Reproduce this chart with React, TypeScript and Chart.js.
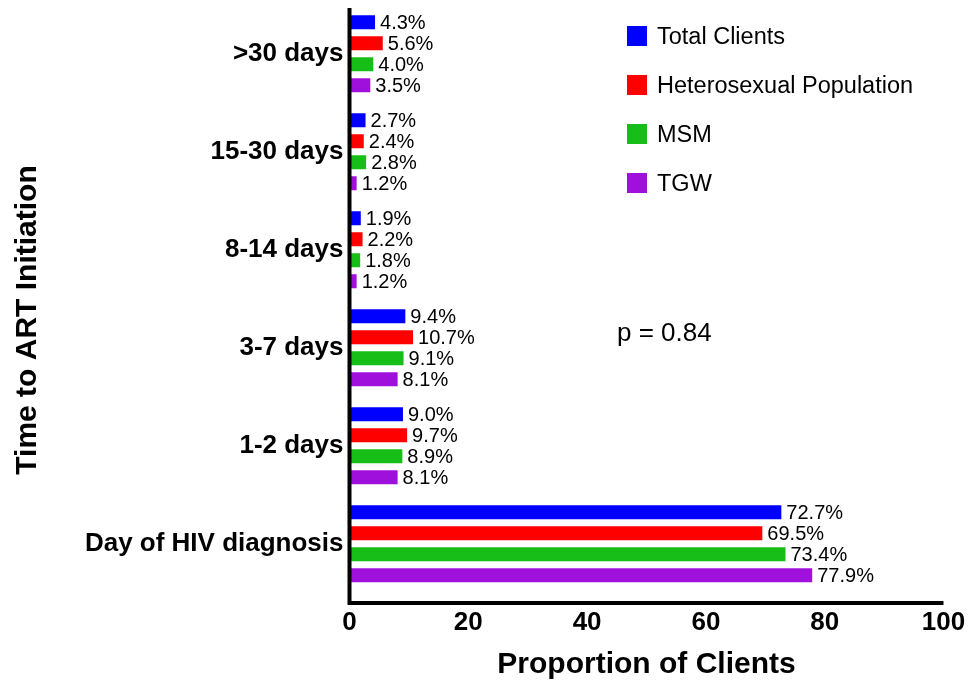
import React, { useEffect, useRef } from "react";
import { Chart, registerables } from "chart.js";

Chart.register(...registerables);

const categories = [">30 days", "15-30 days", "8-14 days", "3-7 days", "1-2 days", "Day of HIV diagnosis"];
const seriesNames = ["Total Clients", "Heterosexual Population", "MSM", "TGW"];
const totalClients = [4.3, 2.7, 1.9, 9.4, 9.0, 72.7];
const heterosexual = [5.6, 2.4, 2.2, 10.7, 9.7, 69.5];
const msm = [4.0, 2.8, 1.8, 9.1, 8.9, 73.4];
const tgw = [3.5, 1.2, 1.2, 8.1, 8.1, 77.9];
const xTicks = [0, 20, 40, 60, 80, 100];
const pValueText = "p = 0.84";
const xTitle = "Proportion of Clients";
const yTitle = "Time to ART Initiation";
const colors = ["#0000FF", "#FF0000", "#18BE18", "#A010DC"];

const FONT = "Arial, 'Liberation Sans', Helvetica, sans-serif";

const overlayPlugin = {
  id: "overlay",
  afterDatasetsDraw(chart: any) {
    const { ctx, chartArea } = chart;
    const { left, right, top, bottom } = chartArea;
    ctx.save();
    // value labels
    ctx.fillStyle = "#000";
    ctx.font = `20px ${FONT}`;
    ctx.textAlign = "left";
    ctx.textBaseline = "middle";
    chart.data.datasets.forEach((ds: any, di: number) => {
      const meta = chart.getDatasetMeta(di);
      meta.data.forEach((el: any, i: number) => {
        const v = ds.data[i].x;
        ctx.fillText(v.toFixed(1) + "%", el.x + 5, el.y + 1);
      });
    });
    // axis lines
    ctx.strokeStyle = "#000";
    ctx.lineWidth = 4;
    ctx.lineCap = "butt";
    ctx.beginPath();
    ctx.moveTo(left, top);
    ctx.lineTo(left, bottom + 2);
    ctx.moveTo(left - 2, bottom);
    ctx.lineTo(right, bottom);
    ctx.stroke();
    // legend
    ctx.font = `23.5px ${FONT}`;
    ctx.textBaseline = "alphabetic";
    chart.data.datasets.forEach((ds: any, di: number) => {
      const base = 44 + di * 49;
      ctx.fillStyle = ds.backgroundColor;
      ctx.fillRect(627, base - 18, 20, 20);
      ctx.fillStyle = "#000";
      ctx.fillText(ds.label, 657, base);
    });
    // p value
    ctx.font = `26px ${FONT}`;
    ctx.fillText(pValueText, 617, 341);
    // x title
    ctx.font = `bold 30px ${FONT}`;
    ctx.textAlign = "center";
    ctx.fillText(xTitle, (left + right) / 2, 673);
    // y title
    ctx.translate(36, 320);
    ctx.rotate(-Math.PI / 2);
    ctx.fillText(yTitle, 0, 0);
    ctx.restore();
  },
};

export default function App() {
  const ref = useRef<HTMLCanvasElement | null>(null);
  useEffect(() => {
    document.body.style.margin = "0";
    const series = [totalClients, heterosexual, msm, tgw];
    const chart = new Chart(ref.current as HTMLCanvasElement, {
      type: "bar",
      data: {
        datasets: series.map((vals, si) => ({
          label: seriesNames[si],
          data: vals.map((v, i) => ({ x: v, y: i })),
          backgroundColor: colors[si],
          borderWidth: 0,
          categoryPercentage: 0.857,
          barPercentage: 0.667,
        })),
      },
      options: {
        indexAxis: "y",
        animation: false,
        responsive: true,
        maintainAspectRatio: false,
        devicePixelRatio: 1,
        layout: { padding: { top: 8, left: 0, right: 24.5, bottom: 0 } },
        plugins: { legend: { display: false }, tooltip: { enabled: false } },
        scales: {
          y: {
            type: "linear",
            reverse: true,
            offset: false,
            min: -0.466,
            max: 5.605,
            grid: { display: false, drawTicks: false, tickLength: 0, offset: false },
            border: { display: false },
            afterBuildTicks: (scale: any) => {
              scale.ticks = categories.map((_, i) => ({ value: i }));
            },
            afterFit: (scale: any) => {
              scale.width = 349.5;
              scale.paddingTop = 0;
              scale.paddingBottom = 0;
            },
            ticks: {
              padding: 6,
              color: "#000",
              font: { family: FONT, size: 26, weight: "bold" },
              callback: (v: any) => categories[v] ?? "",
            },
          },
          x: {
            type: "linear",
            min: 0,
            max: 100,
            offset: false,
            grid: { display: false, drawTicks: false, tickLength: 0 },
            border: { display: false },
            afterBuildTicks: (scale: any) => {
              scale.ticks = xTicks.map((v) => ({ value: v }));
            },
            afterFit: (scale: any) => {
              scale.height = 81;
              scale.paddingLeft = 0;
              scale.paddingRight = 0;
            },
            ticks: {
              padding: 4,
              color: "#000",
              maxRotation: 0,
              autoSkip: false,
              font: { family: FONT, size: 26, weight: "bold" },
            },
          },
        },
      } as any,
      plugins: [overlayPlugin],
    });
    return () => chart.destroy();
  }, []);
  return (
    <div style={{ position: "absolute", left: 0, top: 0, width: 968, height: 684 }}>
      <canvas ref={ref} />
    </div>
  );
}
